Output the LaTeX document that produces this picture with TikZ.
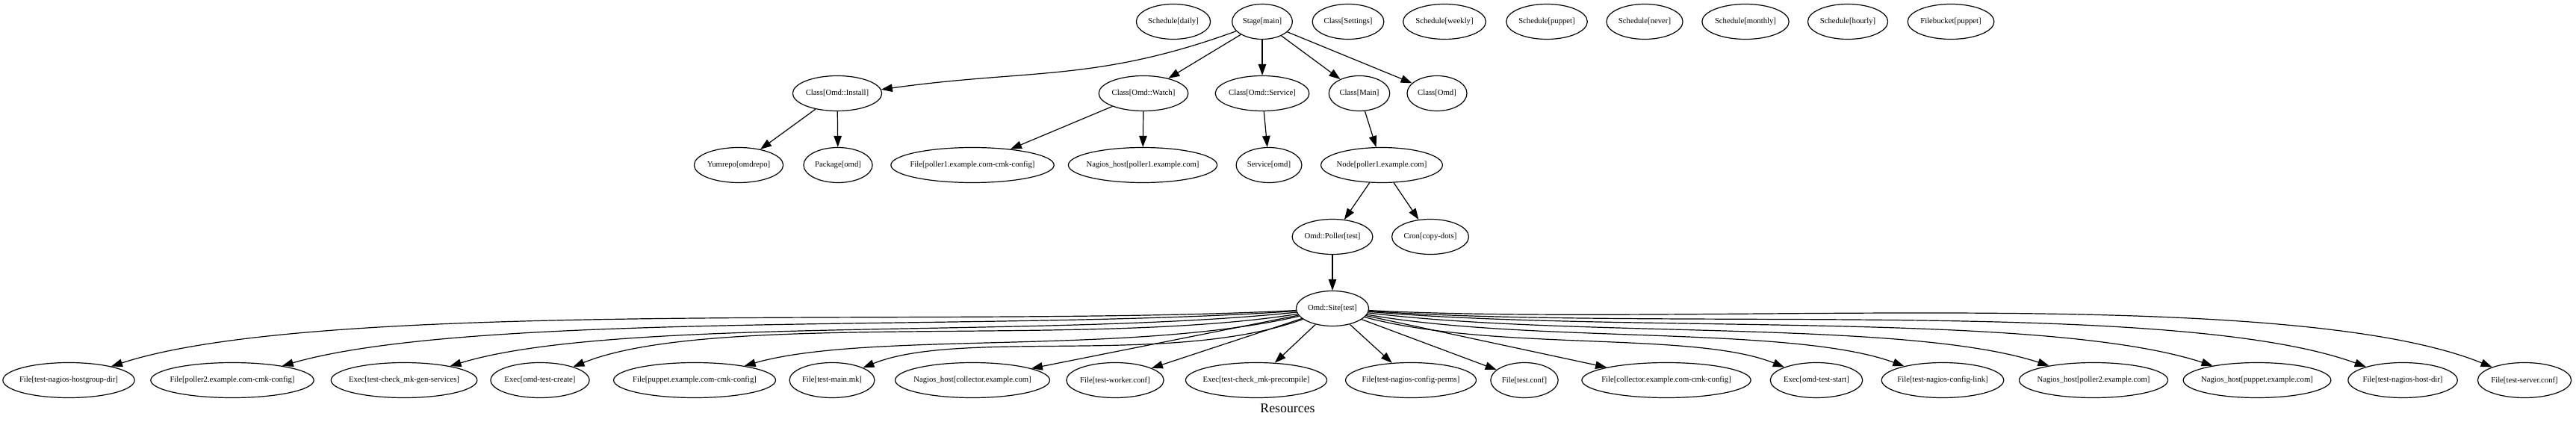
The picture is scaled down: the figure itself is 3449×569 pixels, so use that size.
\documentclass[tikz,border=0pt]{standalone}
\usepackage{fontspec}
\setmainfont{Liberation Serif}
\usetikzlibrary{shapes.geometric,arrows.meta}
\tikzset{
  res/.style={ellipse, draw, line width=1.2pt, inner sep=0pt, minimum height=47pt},
  edge/.style={line width=1.2pt, -{Triangle[length=15pt,width=10.5pt]}},
  lbl/.style={inner sep=0pt, font=\fontsize{17.8}{20}\selectfont},
}
\newcommand\rn[3]{%
  \pgfmathsetmacro\rnw{1.2*width("#3")+18}%
  \node[res, minimum width=\rnw pt] (#1) at (#2) {\makebox[0pt]{#3}};}
\begin{document}
\begin{tikzpicture}[x=1pt,y=1pt]
\fontsize{10.7}{12}\selectfont
\useasboundingbox (0,0) rectangle (3449,-569);
% rank 0
\rn{sdaily}{1571,-29}{Schedule[daily]}
\rn{stage}{1690,-29}{Stage[main]}
\rn{csettings}{1805,-29}{Class[Settings]}
\rn{sweekly}{1934,-29}{Schedule[weekly]}
\rn{spuppet}{2071,-29}{Schedule[puppet]}
\rn{snever}{2202,-29}{Schedule[never]}
\rn{smonthly}{2337,-29}{Schedule[monthly]}
\rn{shourly}{2474,-29}{Schedule[hourly]}
\rn{fbucket}{2612,-29}{Filebucket[puppet]}
% rank 1
\rn{cinstall}{1121,-125}{Class[Omd::Install]}
\rn{cwatch}{1531,-125}{Class[Omd::Watch]}
\rn{cservice}{1690,-125}{Class[Omd::Service]}
\rn{cmain}{1820,-125}{Class[Main]}
\rn{comd}{1924,-125}{Class[Omd]}
% rank 2
\rn{yum}{989,-221}{Yumrepo[omdrepo]}
\rn{pkg}{1122,-221}{Package[omd]}
\rn{fp1}{1302,-221}{File[poller1.example.com-cmk-config]}
\rn{nh1}{1530,-221}{Nagios\_host[poller1.example.com]}
\rn{svc}{1699,-221}{Service[omd]}
\rn{nodep}{1850,-221}{Node[poller1.example.com]}
% rank 3
\rn{poller}{1784,-317}{Omd::Poller[test]}
\rn{cron}{1915,-317}{Cron[copy-dots]}
% rank 4
\rn{site}{1784,-413}{Omd::Site[test]}
% rank 5
\rn{b1}{92,-509}{File[test-nagios-hostgroup-dir]}
\rn{b2}{311,-509}{File[poller2.example.com-cmk-config]}
\rn{b3}{541,-509}{Exec[test-check\_mk-gen-services]}
\rn{b4}{723,-509}{Exec[omd-test-create]}
\rn{b5}{930,-509}{File[puppet.example.com-cmk-config]}
\rn{b6}{1114,-509}{File[test-main.mk]}
\rn{b7}{1302,-509}{Nagios\_host[collector.example.com]}
\rn{b8}{1493,-509}{File[test-worker.conf]}
\rn{b9}{1682,-509}{Exec[test-check\_mk-precompile]}
\rn{b10}{1889,-509}{File[test-nagios-config-perms]}
\rn{b11}{2041,-509}{File[test.conf]}
\rn{b12}{2231,-509}{File[collector.example.com-cmk-config]}
\rn{b13}{2432,-509}{Exec[omd-test-start]}
\rn{b14}{2601,-509}{File[test-nagios-config-link]}
\rn{b15}{2803,-509}{Nagios\_host[poller2.example.com]}
\rn{b16}{3022,-509}{Nagios\_host[puppet.example.com]}
\rn{b17}{3217,-509}{File[test-nagios-host-dir]}
\rn{b18}{3380,-509}{File[test-server.conf]}
\node[lbl] (title) at (1724,-547) {Resources};
% edges
\draw[edge] (stage.200) .. controls +(200:200) and +(8:200) .. (cinstall.5);
\draw[edge] (stage) -- (cwatch);
\draw[edge] (stage) -- (cservice);
\draw[edge] (stage) -- (cmain);
\draw[edge] (stage) -- (comd);
\draw[edge] (cinstall) -- (yum);
\draw[edge] (cinstall) -- (pkg);
\draw[edge] (cwatch) -- (fp1);
\draw[edge] (cwatch) -- (nh1);
\draw[edge] (cservice) -- (svc);
\draw[edge] (cmain) -- (nodep);
\draw[edge] (nodep) -- (poller);
\draw[edge] (nodep) -- (cron);
\draw[edge] (poller) -- (site);
\foreach \t/\o/\i/\da/\db in {b1/183/18/450/300, b2/184/16/400/270, b3/186/17/340/230,
  b4/189/22/290/200, b5/193/16/235/170, b6/200/22/185/140,
  b13/345/158/180/130, b14/350/160/225/160, b15/353/162/280/200,
  b16/355/162/340/240, b17/356/160/390/270, b18/357/158/430/300}
  \draw[edge] (site.\o) .. controls +(\o:\da) and +(\i:\db) .. (\t.\i);
\foreach \t in {b7,b8,b9,b10,b11,b12}
  \draw[edge] (site) -- (\t);
\end{tikzpicture}
\end{document}
